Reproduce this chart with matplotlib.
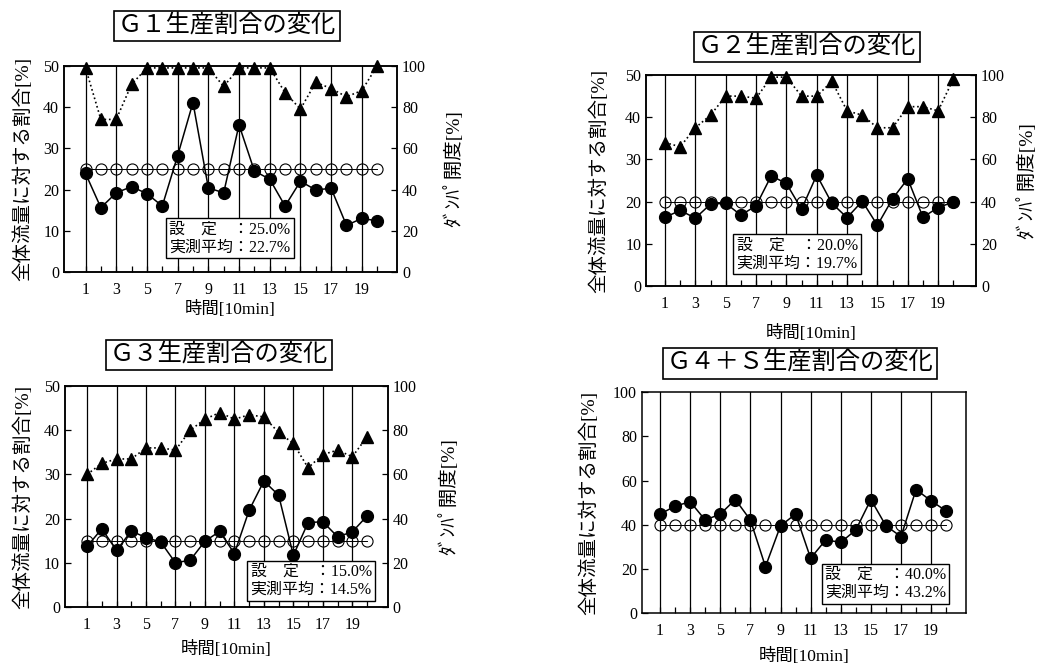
import matplotlib
matplotlib.use("Agg")
import matplotlib.pyplot as plt

plt.rcParams['font.family'] = ['Liberation Serif', 'Noto Sans CJK JP']
plt.rcParams['axes.linewidth'] = 1.1

# time axis [10min]
time = list(range(1, 21))

# G1
g1_actual = [23.9, 15.6, 19.2, 20.7, 19.0, 16.0, 28.2, 41.1, 20.4, 19.2,
             35.7, 24.5, 22.5, 16.0, 22.0, 19.9, 20.3, 11.3, 13.0, 12.4]
g1_set = [25.0, 25.0, 25.0, 25.0, 25.0, 25.0, 25.0, 25.0, 25.0, 25.0,
          25.0, 25.0, 25.0, 25.0, 25.0, 25.0, 25.0, 25.0, 25.0, 25.0]
g1_damper = [99, 74, 74, 91, 99, 99, 99, 99, 99, 90,
             99, 99, 99, 87, 79, 92, 89, 85, 88, 100]

# G2
g2_actual = [16.3, 17.9, 16.1, 19.4, 19.6, 16.8, 19.0, 26.1, 24.3, 18.2,
             26.3, 19.6, 16.2, 20.1, 14.4, 20.7, 25.4, 16.3, 18.6, 19.9]
g2_set = [20.0, 20.0, 20.0, 20.0, 20.0, 20.0, 20.0, 20.0, 20.0, 20.0,
          20.0, 20.0, 20.0, 20.0, 20.0, 20.0, 20.0, 20.0, 20.0, 20.0]
g2_damper = [68, 66, 75, 81, 90, 90, 89, 99, 99, 90,
             90, 97, 83, 81, 75, 75, 85, 85, 83, 98]

# G3
g3_actual = [13.7, 17.7, 12.8, 17.2, 15.7, 14.7, 10.0, 10.6, 14.9, 17.1,
             12.1, 21.9, 28.5, 25.3, 11.7, 19.1, 19.3, 15.9, 17.0, 20.6]
g3_set = [15.0, 15.0, 15.0, 15.0, 15.0, 15.0, 15.0, 15.0, 15.0, 15.0,
          15.0, 15.0, 15.0, 15.0, 15.0, 15.0, 15.0, 15.0, 15.0, 15.0]
g3_damper = [60, 65, 67, 67, 72, 72, 71, 80, 85, 88,
             85, 87, 86, 79, 74, 63, 69, 71, 68, 77]

# G4+S
g4_actual = [44.8, 48.4, 50.4, 42.1, 44.8, 51.4, 42.1, 21.0, 39.5, 44.8,
             24.8, 33.1, 32.0, 37.6, 51.4, 39.5, 34.6, 55.9, 50.8, 46.2]
g4_set = [40.0, 40.0, 40.0, 40.0, 40.0, 40.0, 40.0, 40.0, 40.0, 40.0,
          40.0, 40.0, 40.0, 40.0, 40.0, 40.0, 40.0, 40.0, 40.0, 40.0]

odd_ticks = [1, 3, 5, 7, 9, 11, 13, 15, 17, 19]

ylabel_left = "全体流量に対する割合[%]"
ylabel_right = "ﾀﾞﾝﾊﾟ開度[%]"
xlabel = "時間[10min]"

fig = plt.figure(figsize=(10.41, 6.65), dpi=100)


def panel(rect, xlim, title, title_xy, actual, setting, damper, ymax,
          note, note_xy, ylab_x, yrlab_x, xlab_y):
    ax = fig.add_axes(rect)
    ax.set_xlim(*xlim)
    ax.set_ylim(0, ymax)
    for v in odd_ticks:
        ax.axvline(v, color='black', lw=0.9, zorder=1)
    ax.plot(time, setting, color='black', lw=0.7, marker='o', ms=8,
            mfc='none', mec='black', mew=0.8, zorder=2)
    ax.plot(time, actual, color='black', lw=1.1, marker='o', ms=8.5,
            mfc='black', mec='black', zorder=3)
    ax.set_xticks(time)
    ax.set_xticklabels([str(t) if t % 2 == 1 else '' for t in time])
    ax.set_yticks(range(0, ymax + 1, ymax // 5))
    ax.tick_params(direction='in', length=4, labelsize=11.5, width=0.9)
    ax.tick_params(axis='x', pad=7)
    ax.set_xlabel(xlabel, fontsize=12.5)
    ax.xaxis.set_label_coords(0.5, xlab_y)
    ax.set_ylabel(ylabel_left, fontsize=14)
    ax.yaxis.set_label_coords(ylab_x, 0.5)
    top = ax
    if damper is not None:
        ax2 = ax.twinx()
        ax2.set_ylim(0, 100)
        ax2.set_yticks(range(0, 101, 20))
        ax2.plot(time, damper, color='black', lw=1.2, ls=':', marker='^',
                 ms=8.5, mfc='black', mec='black', clip_on=False, zorder=4)
        ax2.tick_params(direction='in', length=4, labelsize=11.5, width=0.9)
        ax2.set_ylabel(ylabel_right, fontsize=14, rotation=90)
        ax2.yaxis.set_label_coords(yrlab_x, 0.5)
        top = ax2
    top.text(note_xy[0], note_xy[1], note, transform=ax.transAxes,
             ha='center', va='center', fontsize=11.5, linespacing=1.15,
             zorder=10,
             bbox=dict(boxstyle='square,pad=0.2', fc='white', ec='black', lw=1))
    top.text(title_xy[0], title_xy[1], title, transform=ax.transAxes,
             ha='center', va='center', fontsize=17.5, clip_on=False,
             bbox=dict(boxstyle='square,pad=0.15', fc='white', ec='black', lw=1.2))
    return ax


panel((0.0615, 0.591, 0.320, 0.310), (-0.4, 21.3), "Ｇ１生産割合の変化", (0.49, 1.194),
      g1_actual, g1_set, g1_damper, 50,
      "設　定　：25.0%\n実測平均：22.7%", (0.498, 0.163), -0.096, 1.138, -0.14)
panel((0.6206, 0.5699, 0.317, 0.3173), (-0.25, 21.5), "Ｇ２生産割合の変化", (0.488, 1.133),
      g2_actual, g2_set, g2_damper, 50,
      "設　定　：20.0%\n実測平均：19.7%", (0.458, 0.150), -0.115, 1.122, -0.185)
panel((0.0624, 0.0872, 0.310, 0.3323), (-0.5, 21.4), "Ｇ３生産割合の変化", (0.477, 1.140),
      g3_actual, g3_set, g3_damper, 50,
      "設　定　：15.0%\n実測平均：14.5%", (0.763, 0.118), -0.102, 1.158, -0.154)
panel((0.6167, 0.0782, 0.311, 0.332), (-0.2, 21.3), "Ｇ４＋Ｓ生産割合の変化", (0.488, 1.131),
      g4_actual, g4_set, None, 100,
      "設　定　：40.0%\n実測平均：43.2%", (0.752, 0.131), -0.136, None, -0.158)

fig.savefig("out.png", dpi=100)
